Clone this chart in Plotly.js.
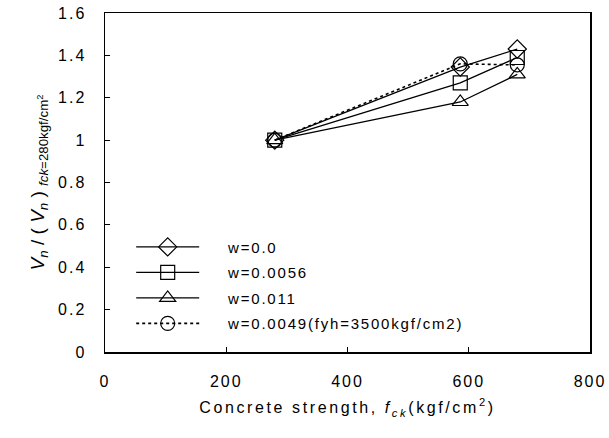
<!DOCTYPE html>
<html>
<head>
<meta charset="utf-8">
<script src="https://cdn.plot.ly/plotly-3.0.1.min.js"></script>
<style>
body{margin:0;padding:0;background:#fff;}
#chart{width:609px;height:438px;}
.xtick text,.ytick text{letter-spacing:2px;}
.legendtext{letter-spacing:1.8px;}
.g-xtitle text{letter-spacing:2.6px;}
</style>
</head>
<body>
<div id="chart"></div>
<script>
const fck = [280, 586, 680];
const w0 = [1.0, 1.345, 1.43];
const w0056 = [1.0, 1.27, 1.39];
const w011 = [1.0, 1.18, 1.31];
const w0049 = [1.0, 1.36, 1.355];
const names = ['w=0.0', 'w=0.0056', 'w=0.011', 'w=0.0049(fyh=3500kgf/cm2)'];
const pad = '\u00A0\u00A0\u00A0\u00A0';

const mk = (sym) => ({symbol: sym, size: 14, color: '#000', line: {color: '#000', width: 1.2}});
const traces = [
  {x: fck, y: w0, name: pad + names[0], legendgroup: 'a', mode: 'lines+markers', line: {color: '#000', width: 1.3}, marker: mk('diamond-open')},
  {x: fck, y: w0056, name: pad + names[1], legendgroup: 'b', mode: 'lines+markers', line: {color: '#000', width: 1.3}, marker: mk('square-open')},
  {x: fck, y: w011, name: pad + names[2], legendgroup: 'c', mode: 'lines+markers', line: {color: '#000', width: 1.3}, marker: mk('triangle-up-open')},
  {x: fck, y: w0049, name: pad + names[3], legendgroup: 'd', mode: 'lines+markers', line: {color: '#000', width: 1.6, dash: '3px,3px'}, marker: mk('circle-open')}
];

const layout = {
  width: 609, height: 438,
  margin: {l: 105, r: 19, t: 13, b: 86},
  paper_bgcolor: '#fff', plot_bgcolor: '#fff',
  font: {family: 'Liberation Sans, Arial, sans-serif', size: 15, color: '#000'},
  showlegend: true,
  legend: {x: 0.054, y: 0.358, xanchor: 'left', yanchor: 'top', bgcolor: 'rgba(0,0,0,0)',
           font: {size: 15}, tracegroupgap: 3, itemwidth: 63},
  xaxis: {
    range: [0, 800], dtick: 200, tick0: 0,
    showline: true, mirror: true, linecolor: '#000', linewidth: 1.5,
    ticks: 'inside', ticklen: 5, tickcolor: '#000', showgrid: false, zeroline: false,
    tickfont: {size: 16}, ticklabelstandoff: 14,
    title: {text: 'Concrete strength, <i>f</i><sub><i>ck</i></sub>(kgf/cm<sup>2</sup>)', font: {size: 16}, standoff: 13}
  },
  yaxis: {
    range: [0, 1.6], dtick: 0.2, tick0: 0,
    showline: true, mirror: true, linecolor: '#000', linewidth: 1.5,
    ticks: 'inside', ticklen: 5, tickcolor: '#000', showgrid: false, zeroline: false,
    tickfont: {size: 16}, ticklabelstandoff: 14,
    title: {text: '<i>V<sub>n</sub></i> / ( <i>V<sub>n</sub></i> ) <sub><i>fck</i>=280kgf/cm<sup>2</sup></sub>', font: {size: 19}, standoff: 8}
  }
};
Plotly.newPlot('chart', traces, layout, {displayModeBar: false, staticPlot: true});
</script>
</body>
</html>
